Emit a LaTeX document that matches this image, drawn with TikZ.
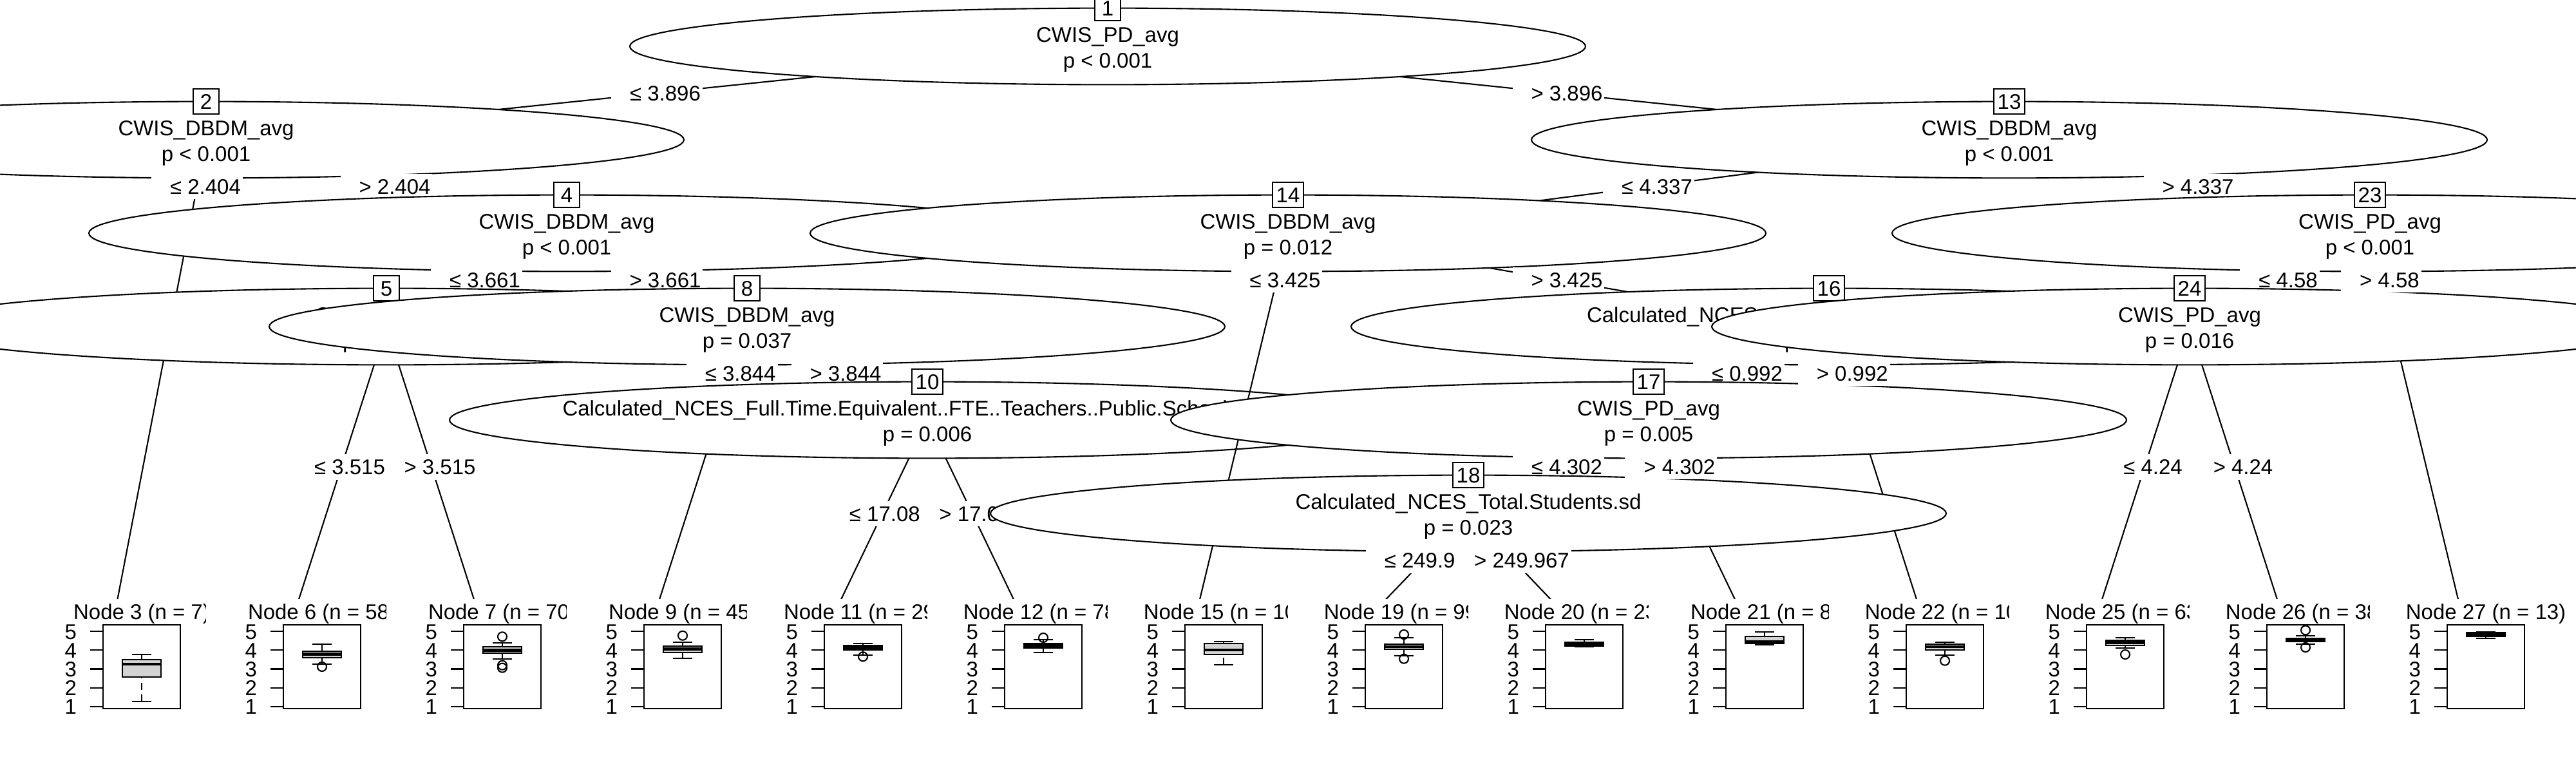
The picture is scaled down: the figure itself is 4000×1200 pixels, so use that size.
\documentclass[tikz,border=0pt]{standalone}
\usepackage{fontspec}
\setmainfont{Liberation Sans}
\usetikzlibrary{shapes.geometric,calc}
\definecolor{rlightgray}{HTML}{D3D3D3}
\tikzset{
  ellnode/.style={ellipse, draw, fill=white, minimum width=148.4mm, minimum height=11.88mm, inner sep=0pt},
  idbox/.style={rectangle, draw, fill=white, minimum width=3.96mm, minimum height=3.96mm, inner xsep=0.55mm, inner ysep=0pt, text height=2.36mm, text depth=0pt},
  ntxt/.style={inner sep=0pt, text height=2.36mm, text depth=0pt},
  elab/.style={rectangle, fill=white, inner sep=0pt, minimum height=3.96mm, text height=2.36mm, text depth=0pt},
  ticklab/.style={inner sep=0pt, text height=2.36mm, text depth=0pt, anchor=east},
  whisk/.style={dash pattern=on 1.1mm off 0.7mm},
  medln/.style={line width=1.3pt},
}
\newcommand\el[1]{\hspace*{2.9mm}#1\hspace*{0.3mm}}
\newcommand\innernode[6]{%
  \node[ellnode] (#1) at (#2,#3) {};
  \node[ntxt] (#1a) at (#2,#3-18) {#5};
  \node[ntxt] (#1b) at (#2,#3+22) {#6};
  \node[idbox] (#1id) at (#2,#3-59.4) {#4};
}
\newcommand\leaf[8]{%
  \pgfmathsetmacro\SL{40+280*#1}%
  \pgfmathsetmacro\SR{320+280*#1}%
  \pgfmathsetmacro\PC{220+280*#1}%
  \pgfmathsetmacro\PL{160+280*#1}%
  \pgfmathsetmacro\PR{280+280*#1}%
  \fill[white] (\SL,930) rectangle (\SR,1100);
  \node[ntxt] (#2) at (\PC,950) {#3};
  \draw (\PL,970) rectangle (\PR,1100);
  \foreach \tv/\yy in {5/980.3,4/1009.4,3/1038.5,2/1067.6,1/1096.7}{
    \draw (\PL-20,\yy) -- (\PL,\yy);
    \node[ticklab] at (\PL-40,\yy) {\tv};}
  \draw (\PC-15,#8) -- (\PC+15,#8);
  \draw[whisk] (\PC,#8) -- (\PC,#7);
  \filldraw[fill=rlightgray] (\PC-30,#7) rectangle (\PC+30,#5);
  \draw[medln] (\PC-30,#6) -- (\PC+30,#6);
  \draw[whisk] (\PC,#5) -- (\PC,#4);
  \draw (\PC-15,#4) -- (\PC+15,#4);
}
\newcommand\outl[2]{\pgfmathsetmacro\PC{220+280*#1}\draw (\PC,#2) circle[radius=0.7mm];}
\begin{document}
\begin{tikzpicture}[x=0.1mm,y=-0.1mm,font=\fontsize{9.38pt}{11.26pt}\selectfont,line width=0.6pt]
\useasboundingbox (0,0) rectangle (4000,1200);
\clip (0,0) rectangle (4000,1200);
\fill[white] (0,0) rectangle (4000,1200);
% inner node centres
\coordinate (c1) at (1720,72);
\coordinate (c2) at (320,217);
\coordinate (c4) at (880,362);
\coordinate (c5) at (600,507);
\coordinate (c8) at (1160,507);
\coordinate (c10) at (1440,652);
\coordinate (c13) at (3120,217);
\coordinate (c14) at (2000,362);
\coordinate (c16) at (2840,507);
\coordinate (c17) at (2560,652);
\coordinate (c18) at (2280,797);
\coordinate (c23) at (3680,362);
\coordinate (c24) at (3400,507);
% terminal edge ends
\coordinate (t3) at (180,943);
\coordinate (t6) at (460,943);
\coordinate (t7) at (740,943);
\coordinate (t9) at (1020,943);
\coordinate (t11) at (1300,943);
\coordinate (t12) at (1580,943);
\coordinate (t15) at (1860,943);
\coordinate (t19) at (2140,943);
\coordinate (t20) at (2420,943);
\coordinate (t21) at (2700,943);
\coordinate (t22) at (2980,943);
\coordinate (t25) at (3260,943);
\coordinate (t26) at (3540,943);
\coordinate (t27) at (3820,943);
% ---- node 1
\draw (c1) -- (c2);
\draw (c1) -- (c13);
\innernode{n1}{1720}{72}{1}{CWIS\_PD\_avg}{p < 0.001}
\node[elab] (e1a) at ($(c1)!0.5!(c2)$) {\el{≤ 3.896}};
% ---- node 2
\draw (c2) -- (t3);
\draw (c2) -- (c4);
\innernode{n2}{320}{217}{2}{CWIS\_DBDM\_avg}{p < 0.001}
\node[elab] (e2a) at ($(c2)!0.0999!(t3)$) {\el{≤ 2.404}};
\leaf{0}{lf3}{Node 3 (n = 7)}{1015.7}{1024}{1031}{1050.7}{1089}
\node[elab] (e2b) at ($(c2)!0.5!(c4)$) {\el{> 2.404}};
% ---- node 4
\draw (c4) -- (c5);
\draw (c4) -- (c8);
\innernode{n4}{880}{362}{4}{CWIS\_DBDM\_avg}{p < 0.001}
\node[elab] (e4a) at ($(c4)!0.5!(c5)$) {\el{≤ 3.661}};
% ---- node 5
\draw (c5) -- (t6);
\draw (c5) -- (t7);
\node[ellnode] (n5) at (c5) {};
\node[ntxt] (n5a) at (600,489) {CWIS\_PD\_avg};
\node[ntxt, anchor=west] (n5b) at (531,529) {p};
\node[idbox] (n5id) at (600,447.6) {5};
\node[elab] (e5a) at ($(c5)!0.5!(t6)$) {\el{≤ 3.515}};
\leaf{1}{lf6}{Node 6 (n = 58)}{1000}{1011}{1015.3}{1020.7}{1031}
\outl{1}{1035}
\node[elab] (e5b) at ($(c5)!0.5!(t7)$) {\el{> 3.515}};
\leaf{2}{lf7}{Node 7 (n = 70)}{998.3}{1004.3}{1009.3}{1014.3}{1023.3}
\outl{2}{988.3}\outl{2}{1032.7}\outl{2}{1036.7}
\node[elab] (e4b) at ($(c4)!0.5!(c8)$) {\el{> 3.661}};
% ---- node 8
\draw (c8) -- (t9);
\draw (c8) -- (c10);
\innernode{n8}{1160}{507}{8}{CWIS\_DBDM\_avg}{p = 0.037}
\node[elab] (e8a) at ($(c8)!0.1663!(t9)$) {\el{≤ 3.844}};
\leaf{3}{lf9}{Node 9 (n = 45)}{996.7}{1002.7}{1007.7}{1012.7}{1021.7}
\outl{3}{986.7}
\node[elab] (e8b) at ($(c8)!0.5!(c10)$) {\el{> 3.844}};
% ---- node 10
\draw (c10) -- (t11);
\draw (c10) -- (t12);
\innernode{n10}{1440}{652}{10}{Calculated\_NCES\_Full.Time.Equivalent..FTE..Teachers..Public.School..mean}{p = 0.006}
\node[elab] (e10a) at ($(c10)!0.5!(t11)$) {\el{≤ 17.083}};
\leaf{4}{lf11}{Node 11 (n = 29)}{999}{1001.7}{1005.7}{1009.3}{1017.3}
\outl{4}{1019.3}
\node[elab] (e10b) at ($(c10)!0.5!(t12)$) {\el{> 17.083}};
\leaf{5}{lf12}{Node 12 (n = 78)}{993.3}{999.3}{1002.3}{1005.7}{1013.3}
\outl{5}{990}
% ---- back to node 1
\node[elab] (e1b) at ($(c1)!0.5!(c13)$) {\el{> 3.896}};
% ---- node 13
\draw (c13) -- (c14);
\draw (c13) -- (c23);
\innernode{n13}{3120}{217}{13}{CWIS\_DBDM\_avg}{p < 0.001}
\node[elab] (e13a) at ($(c13)!0.5!(c14)$) {\el{≤ 4.337}};
% ---- node 14
\draw (c14) -- (t15);
\draw (c14) -- (c16);
\innernode{n14}{2000}{362}{14}{CWIS\_DBDM\_avg}{p = 0.012}
\node[elab] (e14a) at ($(c14)!0.1248!(t15)$) {\el{≤ 3.425}};
\leaf{6}{lf15}{Node 15 (n = 10)}{995.7}{999.3}{1009}{1016}{1031.7}
\node[elab] (e14b) at ($(c14)!0.5!(c16)$) {\el{> 3.425}};
% ---- node 16
\draw (c16) -- (c17);
\draw (c16) -- (t22);
\node[ellnode] (n16) at (c16) {};
\node[ntxt, anchor=west] (n16a) at (2463,489) {Calculated\_NCES};
\node[ntxt, anchor=west] (n16b) at (2770,529) {p};
\node[idbox] (n16id) at (2840,447.6) {16};
\node[elab] (e16a) at ($(c16)!0.5!(c17)$) {\el{≤ 0.992}};
% ---- node 17
\draw (c17) -- (c18);
\draw (c17) -- (t21);
\innernode{n17}{2560}{652}{17}{CWIS\_PD\_avg}{p = 0.005}
\node[elab] (e17a) at ($(c17)!0.5!(c18)$) {\el{≤ 4.302}};
% ---- node 18
\draw (c18) -- (t19);
\draw (c18) -- (t20);
\innernode{n18}{2280}{797}{18}{Calculated\_NCES\_Total.Students.sd}{p = 0.023}
\node[elab] (e18a) at ($(c18)!0.5!(t19)$) {\el{≤ 249.967}};
\leaf{7}{lf19}{Node 19 (n = 99)}{990}{1000}{1004}{1008.3}{1018.3}
\outl{7}{985}\outl{7}{1022.7}
\node[elab] (e18b) at ($(c18)!0.5!(t20)$) {\el{> 249.967}};
\leaf{8}{lf20}{Node 20 (n = 23)}{993.3}{996.7}{1000}{1002.7}{1004}
\node[elab] (e17b) at ($(c17)!0.2491!(t21)$) {\el{> 4.302}};
\leaf{9}{lf21}{Node 21 (n = 8)}{980.7}{988.3}{996.7}{999}{1001}
\node[elab] (e16b) at ($(c16)!0.1663!(t22)$) {\el{> 0.992}};
\leaf{10}{lf22}{Node 22 (n = 10)}{996.7}{1000}{1004}{1009}{1016.7}
\outl{10}{1025.7}
\node[elab] (e13b) at ($(c13)!0.5!(c23)$) {\el{> 4.337}};
% ---- node 23
\draw (c23) -- (c24);
\draw (c23) -- (t27);
\innernode{n23}{3680}{362}{23}{CWIS\_PD\_avg}{p < 0.001}
\node[elab] (e23a) at ($(c23)!0.5!(c24)$) {\el{≤ 4.58}};
% ---- node 24
\draw (c24) -- (t25);
\draw (c24) -- (t26);
\innernode{n24}{3400}{507}{24}{CWIS\_PD\_avg}{p = 0.016}
\node[elab] (e24a) at ($(c24)!0.5!(t25)$) {\el{≤ 4.24}};
\leaf{11}{lf25}{Node 25 (n = 63)}{990}{994}{997.3}{1001.7}{1006}
\outl{11}{1016}
\node[elab] (e24b) at ($(c24)!0.5!(t26)$) {\el{> 4.24}};
\leaf{12}{lf26}{Node 26 (n = 38)}{987.3}{990.7}{993.3}{996}{1000}
\outl{12}{978.3}\outl{12}{1005}
\node[elab] (e23b) at ($(c23)!0.1248!(t27)$) {\el{> 4.58}};
\leaf{13}{lf27}{Node 27 (n = 13)}{980.7}{981.7}{985}{988.3}{990.7}
\end{tikzpicture}
\end{document}
